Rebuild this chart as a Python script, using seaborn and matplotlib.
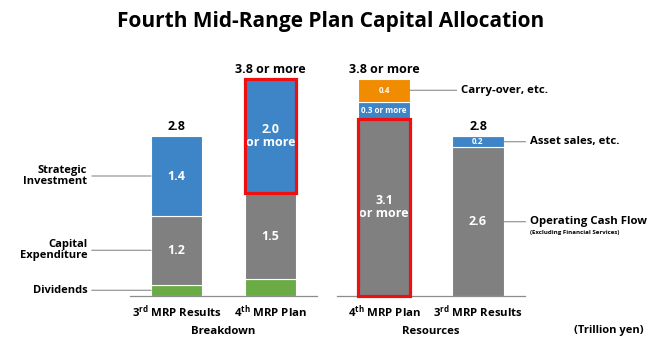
import matplotlib
matplotlib.use("Agg")
import matplotlib.pyplot as plt
import numpy as np
import seaborn as sns

# ---- data (trillion yen) ----
breakdown_periods = ["3rd MRP Results", "4th MRP Plan"]
breakdown_ticks = [r"3$^{\mathrm{rd}}$ MRP Results", r"4$^{\mathrm{th}}$ MRP Plan"]
dividends = [0.2, 0.3]
capex = [1.2, 1.5]
strategic = [1.4, 2.0]
capex_labels = ["1.2", "1.5"]
strategic_labels = ["1.4", "2.0\nor more"]
breakdown_totals = ["2.8", "3.8 or more"]

resource_periods = ["4th MRP Plan", "3rd MRP Results"]
resource_ticks = [r"4$^{\mathrm{th}}$ MRP Plan", r"3$^{\mathrm{rd}}$ MRP Results"]
operating_cf = [3.1, 2.6]
asset_sales = [0.3, 0.2]
carry_over = [0.4, 0.0]
ocf_labels = ["3.1\nor more", "2.6"]
asset_labels = ["0.3 or more", "0.2"]
carry_labels = ["0.4", ""]
resource_totals = ["3.8 or more", "2.8"]

BLUE = "#3d85c6"
GRAY = "#808080"
GREEN = "#6aab45"
ORANGE = "#f18c00"
RED = "#ee1010"
LINE = "#8c8c8c"

sns.set_theme(style="white")
FONT = "Open Sans"
plt.rcParams["font.family"] = [FONT, "DejaVu Sans"]
plt.rcParams["font.weight"] = "bold"
plt.rcParams["text.color"] = "black"
plt.rcParams["axes.labelcolor"] = "black"
plt.rcParams["xtick.color"] = "black"
plt.rcParams["mathtext.fontset"] = "custom"
plt.rcParams["mathtext.rm"] = f"{FONT}:bold"
plt.rcParams["mathtext.it"] = f"{FONT}:bold"
plt.rcParams["mathtext.bf"] = f"{FONT}:bold"

fig = plt.figure(figsize=(6.52, 3.48), dpi=100)
W, H = 652, 348
ymax = 4.48
ax_b = fig.add_axes([130 / W, 52 / H, 187 / W, 256 / H])
ax_r = fig.add_axes([337 / W, 52 / H, 188 / W, 256 / H])

BAR_W = 0.55


def stacked(ax, cats, layers, colors):
    bottom = np.zeros(len(cats))
    for vals, color in zip(layers, colors):
        sns.barplot(x=cats, y=vals, order=cats, color=color, saturation=1,
                    width=BAR_W, bottom=bottom.copy(), edgecolor="white",
                    linewidth=0.8, ax=ax, errorbar=None)
        bottom += np.asarray(vals, dtype=float)
    return ax.containers


def style_axis(ax, ticks, label):
    ax.set_xlim(-0.5, 1.5)
    ax.set_ylim(0, ymax)
    ax.set_yticks([])
    ax.set_ylabel("")
    ax.set_xticks(range(len(ticks)))
    ax.set_xticklabels(ticks, fontsize=8.2, fontweight="bold", color="black")
    ax.tick_params(axis="x", length=0, pad=5)
    for side in ("left", "right", "top"):
        ax.spines[side].set_visible(False)
    ax.spines["bottom"].set_color(LINE)
    ax.spines["bottom"].set_linewidth(0.9)
    ax.set_xlabel(label, fontsize=8.2, fontweight="bold", labelpad=5, color="black")


def outline(ax, bar):
    ax.add_patch(plt.Rectangle((bar.get_x(), bar.get_y()), bar.get_width(),
                               bar.get_height(), fill=False, edgecolor=RED,
                               linewidth=2.3, zorder=5, clip_on=False))


# ---- Breakdown ----
cb = stacked(ax_b, breakdown_periods, [dividends, capex, strategic], [GREEN, GRAY, BLUE])
ax_b.bar_label(cb[1], labels=capex_labels, label_type="center", color="white",
               fontsize=9, fontweight="bold")
ax_b.bar_label(cb[2], labels=strategic_labels, label_type="center", color="white",
               fontsize=9, fontweight="bold", linespacing=1.0)
ax_b.bar_label(cb[2], labels=breakdown_totals, padding=2, color="black",
               fontsize=9, fontweight="bold")
outline(ax_b, cb[2][1])
style_axis(ax_b, breakdown_ticks, "Breakdown")

left_notes = [("Strategic\nInvestment", cb[2][0]), ("Capital\nExpenditure", cb[1][0]),
              ("Dividends", cb[0][0])]
for text, bar in left_notes:
    y = bar.get_y() + bar.get_height() / 2
    ax_b.annotate(text, xy=(bar.get_x(), y), xytext=(-46, 0), textcoords="offset points",
                  ha="right", va="center", fontsize=8, fontweight="bold",
                  linespacing=1.05, annotation_clip=False, color="black",
                  arrowprops=dict(arrowstyle="-", color=LINE, lw=0.8, shrinkA=1, shrinkB=0))

# ---- Resources ----
cr = stacked(ax_r, resource_periods, [operating_cf, asset_sales, carry_over], [GRAY, BLUE, ORANGE])
ax_r.bar_label(cr[0], labels=ocf_labels, label_type="center", color="white",
               fontsize=9, fontweight="bold", linespacing=1.0)
ax_r.bar_label(cr[1], labels=asset_labels, label_type="center", color="white",
               fontsize=5.8, fontweight="bold")
ax_r.bar_label(cr[2], labels=carry_labels, label_type="center", color="white",
               fontsize=5.8, fontweight="bold")
ax_r.bar_label(cr[2], labels=resource_totals, padding=2, color="black",
               fontsize=9, fontweight="bold")
outline(ax_r, cr[0][0])
style_axis(ax_r, resource_ticks, "Resources")

right_notes = [("Carry-over, etc.", cr[2][0], 37), ("Asset sales, etc.", cr[1][1], 19),
               ("Operating Cash Flow", cr[0][1], 19)]
for text, bar, dx in right_notes:
    y = bar.get_y() + bar.get_height() / 2
    ax_r.annotate(text, xy=(bar.get_x() + bar.get_width(), y), xytext=(dx, 0),
                  textcoords="offset points", ha="left", va="center", fontsize=8.2,
                  fontweight="bold", annotation_clip=False, color="black",
                  arrowprops=dict(arrowstyle="-", color=LINE, lw=0.8, shrinkA=1, shrinkB=0))
ocf_bar = cr[0][1]
ax_r.annotate("(Excluding Financial Services)",
              xy=(ocf_bar.get_x() + ocf_bar.get_width(), ocf_bar.get_height() / 2),
              xytext=(19, -8), textcoords="offset points", ha="left", va="center",
              fontsize=4.4, fontweight="bold", annotation_clip=False, color="black")

fig.text(331 / W, 1 - 22 / H, "Fourth Mid-Range Plan Capital Allocation", ha="center",
         va="center", fontsize=15.0, fontweight="bold", color="black")
fig.text(609 / W, 1 - 330 / H, "(Trillion yen)", ha="center", va="center",
         fontsize=8, fontweight="bold", color="black")

fig.savefig("out.png", dpi=100)
